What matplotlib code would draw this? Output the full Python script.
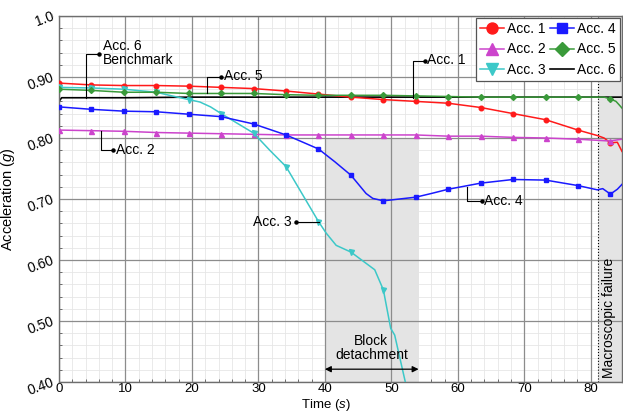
import numpy as np
import matplotlib

matplotlib.use("Agg")
import matplotlib.pyplot as plt
from matplotlib.ticker import MultipleLocator

plt.rcParams["font.family"] = ["Liberation Sans", "DejaVu Sans"]
plt.rcParams["mathtext.fontset"] = "custom"
plt.rcParams["mathtext.rm"] = "Liberation Sans"
plt.rcParams["mathtext.it"] = "Liberation Sans:italic"

# --- data ---
mark_t = [0, 4.88, 9.76, 14.64, 19.52, 24.4, 29.28, 34.16, 39.04, 43.92,
          48.8, 53.68, 58.56, 63.44, 68.32, 73.2, 78.08, 82.96]

acc1_t = mark_t + [81.0, 82.0, 84.0, 84.7]
acc1_y = [0.890, 0.887, 0.886, 0.886, 0.885, 0.883, 0.881, 0.877, 0.872, 0.867,
          0.863, 0.860, 0.857, 0.850, 0.840, 0.830, 0.813, 0.792,
          0.804, 0.800, 0.793, 0.778]

acc2_t = mark_t + [84.0, 84.7]
acc2_y = [0.813, 0.812, 0.811, 0.809, 0.808, 0.807, 0.806, 0.805, 0.805, 0.805,
          0.805, 0.805, 0.803, 0.803, 0.801, 0.800, 0.798, 0.795,
          0.797, 0.798]

acc3_t = mark_t[:11] + [17.0, 21.2, 22.8, 31.7, 40.2, 41.7, 47.5, 49.9, 50.5, 52.1, 53.0]
acc3_y = [0.883, 0.882, 0.880, 0.875, 0.863, 0.840, 0.808, 0.753, 0.663, 0.613,
          0.551,
          0.869, 0.859, 0.851, 0.780, 0.644, 0.624, 0.584, 0.488, 0.477, 0.400, 0.370]

acc4_t = mark_t + [36.5, 41.5, 46.2, 47.2, 56.0, 81.0, 81.8, 84.0, 84.7]
acc4_y = [0.851, 0.847, 0.844, 0.843, 0.839, 0.835, 0.823, 0.805, 0.782, 0.739,
          0.697, 0.703, 0.716, 0.726, 0.732, 0.731, 0.722, 0.708,
          0.794, 0.761, 0.709, 0.701, 0.709, 0.715, 0.717, 0.716, 0.724]

acc5_t = mark_t + [82.0, 83.8, 84.3, 84.7]
acc5_y = [0.880, 0.878, 0.875, 0.875, 0.873, 0.873, 0.873, 0.871, 0.870, 0.870,
          0.870, 0.869, 0.868, 0.867, 0.867, 0.867, 0.867, 0.864,
          0.867, 0.860, 0.854, 0.849]

acc6_t = [0, 0.4, 10, 20, 30, 40, 50, 60, 70, 80, 84.7]
acc6_y = [0.860, 0.866, 0.866, 0.867, 0.867, 0.867, 0.867, 0.867, 0.867, 0.867, 0.867]

ytick_vals = [0.40, 0.50, 0.60, 0.70, 0.80, 0.90, 1.0]
ytick_labels = ["0.40", "0.50", "0.60", "0.70", "0.80", "0.90", "1.0"]
xtick_vals = [0, 10, 20, 30, 40, 50, 60, 70, 80]

block_span = (40.0, 54.1)
failure_t = 81.1

series = [
    ("Acc. 1", acc1_t, acc1_y, "#ff1a1a", "o", 3.3),
    ("Acc. 2", acc2_t, acc2_y, "#cc44cc", "^", 3.6),
    ("Acc. 3", acc3_t, acc3_y, "#3cc8c8", "v", 3.6),
    ("Acc. 4", acc4_t, acc4_y, "#1a1aff", "s", 3.2),
    ("Acc. 5", acc5_t, acc5_y, "#3a9a3a", "D", 3.0),
    ("Acc. 6", acc6_t, acc6_y, "#000000", None, 0),
]


def callout(ax, xs, ys, text, tx, ty, **kw):
    ax.plot(xs, ys, color="k", lw=0.8, zorder=6)
    ax.plot(xs[-1], ys[-1], "o", color="k", ms=2.2, zorder=6)
    ax.text(tx, ty, text, fontsize=10, va="center", zorder=7, **kw)


def main():
    fig = plt.figure(figsize=(6.23, 4.12), dpi=100)
    ax = fig.add_axes([59 / 623, 30 / 412, 563 / 623, 366 / 412])

    ax.set_xlim(0, 84.7)
    ax.set_ylim(0.4, 1.0)

    # grid: light minor first, darker major on top of it
    ax.xaxis.set_minor_locator(MultipleLocator(2))
    ax.yaxis.set_minor_locator(MultipleLocator(0.02))
    ax.grid(which="minor", color="#e6e6e6", lw=0.6)
    ax.set_axisbelow(True)
    for xv in xtick_vals:
        ax.axvline(xv, color="#8c8c8c", lw=0.9, zorder=0.9)
    for yv in ytick_vals:
        ax.axhline(yv, color="#8c8c8c", lw=0.9, zorder=0.9)

    # shaded regions
    ax.fill_between(block_span, 0.4, 0.8, color="#e4e4e4", lw=0, zorder=0.6)
    ax.axvspan(failure_t, 84.7, color="#e4e4e4", lw=0, zorder=0.6)
    ax.axvline(failure_t, color="k", ls=":", lw=0.8, zorder=1.5)

    for label, t, y, col, mk, ms in series:
        t = np.array(t)
        y = np.array(y)
        order = np.argsort(t)
        t, y = t[order], y[order]
        if mk:
            every = np.isin(t, mark_t)
            ax.plot(t, y, color=col, lw=1.1, marker=mk, ms=ms, markevery=every,
                    label=label, zorder=3)
        else:
            ax.plot(t, y, color=col, lw=1.2, label=label, zorder=2.5)

    ax.set_xticks(xtick_vals)
    ax.set_yticks(ytick_vals)
    ax.set_yticklabels(ytick_labels, rotation=20, ha="right", va="center",
                       rotation_mode="anchor")
    ax.tick_params(which="both", direction="in", labelsize=10, color="#555555")
    ax.tick_params(which="major", length=0, pad=4)
    ax.tick_params(axis="x", which="major", pad=1, labelsize=9.5)
    ax.tick_params(which="minor", length=2.5)
    for s in ax.spines.values():
        s.set_color("#6e6e6e")
        s.set_linewidth(1.0)

    ax.set_xlabel("Time ($\\mathit{s}$)", fontsize=9.5)
    ax.xaxis.set_label_coords(0.474, -0.041)
    ax.set_ylabel("Acceleration ($\\mathit{g}$)", fontsize=10.5, labelpad=6)

    # callouts
    callout(ax, [4.06, 4.06, 6.06], [0.866, 0.938, 0.938], "Acc. 6\nBenchmark",
            6.6, 0.939, linespacing=1.05)
    callout(ax, [22.2, 22.2, 24.4], [0.874, 0.900, 0.900], "Acc. 5", 24.8, 0.901)
    callout(ax, [6.27, 6.27, 8.07], [0.811, 0.781, 0.781], "Acc. 2", 8.6, 0.781)
    callout(ax, [53.2, 53.2, 55.0], [0.866, 0.927, 0.927], "Acc. 1", 55.4, 0.928)
    callout(ax, [61.45, 61.45, 63.6], [0.720, 0.696, 0.696], "Acc. 4", 63.9, 0.696)
    callout(ax, [39.1, 35.7], [0.662, 0.662], "Acc. 3", 35.0, 0.663, ha="right")

    ax.text(47.0, 0.456, "Block\ndetachment", fontsize=10, ha="center", va="center",
            linespacing=1.05, zorder=7)
    ax.annotate("", xy=(block_span[0], 0.421), xytext=(block_span[1], 0.421),
                arrowprops=dict(arrowstyle="<|-|>", color="k", lw=0.9,
                                mutation_scale=9, shrinkA=0, shrinkB=0), zorder=7)
    ax.text(82.75, 0.505, "Macroscopic failure", fontsize=10, rotation=90,
            ha="center", va="center", zorder=7)

    leg = ax.legend(loc="upper right", ncol=2, fontsize=10, markerscale=2.4,
                    frameon=True, fancybox=False, framealpha=1,
                    edgecolor="#555555", borderaxespad=0.15, handlelength=1.7,
                    handletextpad=0.25, columnspacing=0.3, labelspacing=0.45,
                    borderpad=0.3)
    leg.get_frame().set_linewidth(0.9)
    leg.set_zorder(10)

    fig.savefig("out.png", dpi=100)
    plt.close(fig)


if __name__ == "__main__":
    main()
